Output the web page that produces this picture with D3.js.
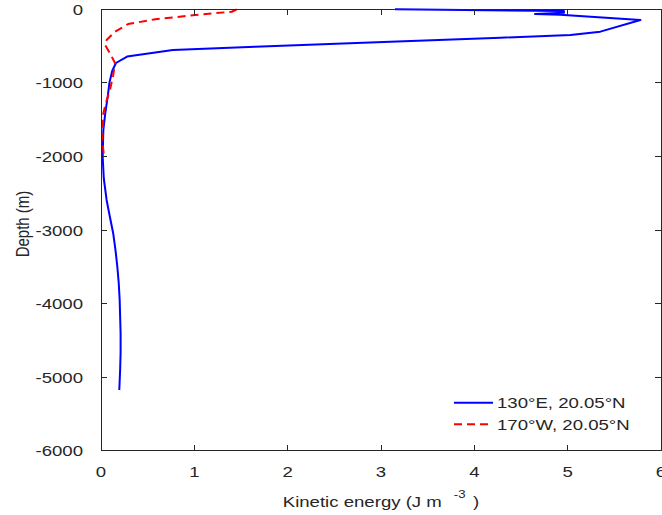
<!DOCTYPE html>
<html>
<head>
<meta charset="utf-8">
<script src="https://cdn.jsdelivr.net/npm/d3@7"></script>
<style>
  body { margin: 0; background: #fff; }
  svg { display: block; }
  text { font-family: "Liberation Sans", Arial, Helvetica, sans-serif; fill: #262626; }
</style>
</head>
<body>
<div class="chart-container"></div>
<script>
// kinetic energy profiles (J m^-3) against depth (m)
var seriesNames = ['130°E, 20.05°N', '170°W, 20.05°N'];

var eastKE = [3.15, 4.96, 4.96, 4.65, 4.92, 5.78, 5.35, 5.03, 4.28, 3.10, 1.65, 0.77, 0.28, 0.16, 0.12, 0.09, 0.072, 0.045, 0.025, 0.018, 0.03, 0.06, 0.095, 0.13, 0.155, 0.175, 0.19, 0.2, 0.21, 0.21, 0.205, 0.196];
var eastDepth = [0, -23, -46, -64, -73, -145, -304, -349, -386, -440, -508, -553, -642, -730, -839, -1000, -1188, -1420, -1641, -2008, -2300, -2592, -2820, -3040, -3270, -3500, -3720, -3950, -4400, -4670, -4900, -5175];

var westKE = [1.455, 1.40, 1.01, 0.79, 0.58, 0.29, 0.15, 0.06, 0.043, 0.096, 0.15, 0.13, 0.096, 0.05, 0.025, 0.014, 0.025, 0.03];
var westDepth = [0, -33, -77, -109, -136, -200, -304, -417, -485, -598, -730, -900, -1097, -1280, -1414, -1776, -1912, -2000];

var xTicks = [0, 1, 2, 3, 4, 5, 6];
var yTicks = [0, -1000, -2000, -3000, -4000, -5000, -6000];

var width = 662;
var height = 515;
var stretch = 1.2; // picture text is wider than it is tall
var fontSize = 15.5;

var svg = d3.select('.chart-container').append('svg')
  .attr('width', width)
  .attr('height', height);

var x = d3.scaleLinear().domain([0, 6]).range([101, 661]);
var y = d3.scaleLinear().domain([-6000, 0]).range([450.7, 9.3]);

function makePoints(ke, depth) {
  return ke.map(function (v, i) { return { ke: v, depth: depth[i] }; });
}

var series = [
  { name: seriesNames[0], color: '#0000ff', dash: null, points: makePoints(eastKE, eastDepth) },
  { name: seriesNames[1], color: '#ff0000', dash: '8,5', points: makePoints(westKE, westDepth) }
];

// stretched text helper
function addText(parent, px, py, str, anchor, rotate) {
  var g = parent.append('g')
    .attr('transform', 'translate(' + px + ',' + py + ') scale(' + stretch + ',1)' + (rotate ? ' rotate(-90)' : ''));
  return g.append('text')
    .attr('text-anchor', anchor)
    .style('font-size', fontSize + 'px')
    .text(str);
}

var line = d3.line()
  .x(function (d) { return x(d.ke); })
  .y(function (d) { return y(d.depth); });

var lines = svg.append('g');
series.forEach(function (s) {
  lines.append('path')
    .datum(s.points)
    .attr('fill', 'none')
    .attr('stroke', s.color)
    .attr('stroke-width', 2)
    .attr('stroke-dasharray', s.dash)
    .attr('stroke-linejoin', 'round')
    .attr('d', line);
});

// axes box with inward ticks on all sides
var axes = svg.append('g');
var tickLen = 5.6;
var boxLeft = x(0), boxRight = x(6), boxTop = y(0), boxBottom = y(-6000);

xTicks.forEach(function (t) {
  axes.append('line').attr('x1', x(t)).attr('x2', x(t)).attr('y1', boxBottom).attr('y2', boxBottom - tickLen);
  axes.append('line').attr('x1', x(t)).attr('x2', x(t)).attr('y1', boxTop).attr('y2', boxTop + tickLen);
  addText(svg, x(t), 476.5, d3.format('d')(t), 'middle');
});
yTicks.forEach(function (t) {
  axes.append('line').attr('x1', boxLeft).attr('x2', boxLeft + tickLen).attr('y1', y(t)).attr('y2', y(t));
  axes.append('line').attr('x1', boxRight).attr('x2', boxRight - tickLen).attr('y1', y(t)).attr('y2', y(t));
  addText(svg, 83, y(t) + 5.6, d3.format('d')(t).replace('−', '-'), 'end');
});
axes.append('rect')
  .attr('x', boxLeft).attr('y', boxTop)
  .attr('width', boxRight - boxLeft).attr('height', boxBottom - boxTop)
  .attr('fill', 'none');
axes.selectAll('line, rect')
  .attr('stroke', '#262626')
  .attr('stroke-width', 1)
  .attr('shape-rendering', 'crispEdges');

// axis labels
var xl = addText(svg, 381, 506.5, '', 'middle');
xl.append('tspan').text('Kinetic energy (J m');
xl.append('tspan').attr('dx', 10).attr('dy', -8.5).style('font-size', '11px').text('-3');
xl.append('tspan').attr('dx', 2).attr('dy', 8.5).text(' )');

addText(svg, 29, 224, 'Depth (m)', 'middle', true).style('font-size', '15px');

// legend
var legend = svg.append('g');
series.forEach(function (s, i) {
  var ly = 402.7 + i * 21.5;
  legend.append('line')
    .attr('x1', 454).attr('x2', 493)
    .attr('y1', ly).attr('y2', ly)
    .attr('stroke', s.color)
    .attr('stroke-width', 2)
    .attr('stroke-dasharray', s.dash);
  addText(legend, 497, ly + 5.6, s.name, 'start');
});
</script>
</body>
</html>
